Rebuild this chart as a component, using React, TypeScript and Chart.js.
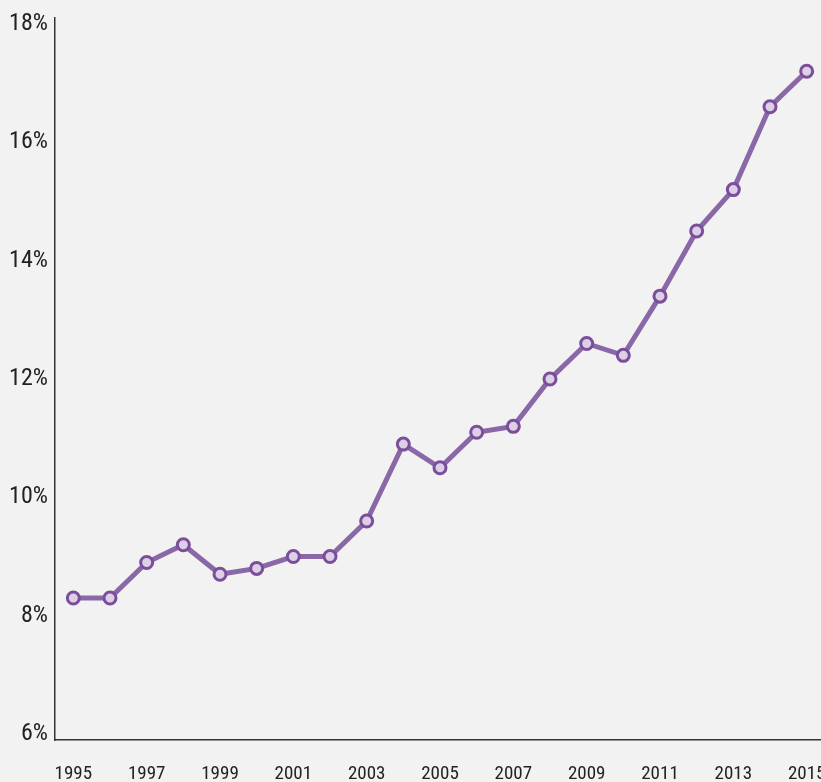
import React, { useEffect, useRef } from "react";
import { Chart, registerables } from "chart.js";

Chart.register(...registerables);

const years = [
  "1995", "1996", "1997", "1998", "1999", "2000", "2001", "2002", "2003", "2004",
  "2005", "2006", "2007", "2008", "2009", "2010", "2011", "2012", "2013", "2014", "2015",
];
const shareValues = [
  8.3, 8.3, 8.9, 9.2, 8.7, 8.8, 9.0, 9.0, 9.6, 10.9,
  10.5, 11.1, 11.2, 12.0, 12.6, 12.4, 13.4, 14.5, 15.2, 16.6, 17.2,
];
const yTickValues = [6, 8, 10, 12, 14, 16, 18];

const FONT = "'Roboto Condensed', 'DejaVu Sans Condensed', sans-serif";

export default function App() {
  const ref = useRef<HTMLCanvasElement | null>(null);

  useEffect(() => {
    const canvas = ref.current;
    if (!canvas) return;
    const chart = new Chart(canvas, {
      type: "line",
      data: {
        labels: years,
        datasets: [
          {
            data: shareValues,
            borderColor: "#8a68a8",
            borderWidth: 5,
            pointRadius: 6,
            pointHoverRadius: 6,
            pointBorderWidth: 3,
            pointBorderColor: "#7a4e9b",
            pointBackgroundColor: "#dccfe6",
            tension: 0,
            fill: false,
          },
        ],
      },
      options: {
        responsive: false,
        animation: false,
        devicePixelRatio: 1,
        layout: { padding: { top: 18, left: 0, right: 0, bottom: 0 } },
        plugins: { legend: { display: false }, tooltip: { enabled: false } },
        scales: {
          x: {
            type: "category",
            offset: true,
            grid: { display: false, drawTicks: false },
            border: { display: true, color: "#333333", width: 1.5 },
            ticks: {
              autoSkip: false,
              maxRotation: 0,
              padding: 23,
              color: "#222222",
              font: { family: FONT, size: 19 },
              callback: (_v: any, i: number) => (i % 2 === 0 ? years[i] : ""),
            },
            afterFit: (s: any) => {
              s.height = 42;
              s.paddingLeft = 0;
              s.paddingRight = 0;
            },
          },
          y: {
            min: 5.9,
            max: 18.1,
            grid: { display: false, drawTicks: false },
            border: { display: true, color: "#333333", width: 1.5 },
            afterBuildTicks: (s: any) => {
              s.ticks = yTickValues.map((v) => ({ value: v }));
            },
            ticks: {
              padding: 7,
              color: "#222222",
              font: { family: FONT, size: 24 },
              callback: (v: any) => `${v}%`,
            },
            afterFit: (s: any) => {
              s.width = 55;
              s.paddingTop = 0;
              s.paddingBottom = 0;
            },
          },
        },
      },
    });
    return () => chart.destroy();
  }, []);

  return (
    <div
      style={{
        position: "fixed",
        left: 0,
        top: 0,
        width: 821,
        height: 782,
        overflow: "hidden",
        background: "#f2f2f2",
      }}
    >
      <canvas ref={ref} width={834} height={782} style={{ display: "block" }} />
    </div>
  );
}
